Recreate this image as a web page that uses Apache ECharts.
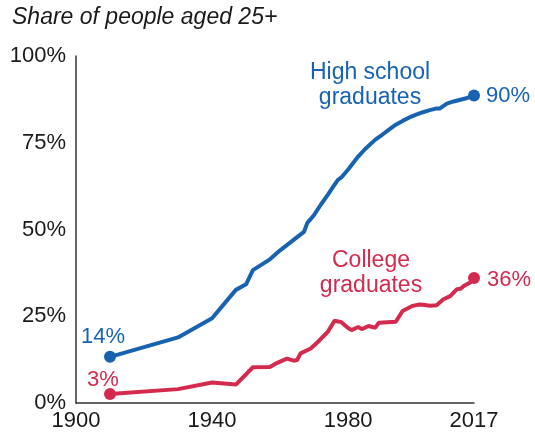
<!DOCTYPE html>
<html>
<head>
<meta charset="utf-8">
<script src="https://cdn.jsdelivr.net/npm/echarts@6/dist/echarts.min.js"></script>
<style>
  html, body { margin: 0; padding: 0; background: #fff; }
  #chart { width: 535px; height: 432px; }
</style>
</head>
<body>
<div id="chart"></div>
<script>
const FONT = '"Liberation Sans", Arial, Helvetica, sans-serif'
const BLUE = '#1763b1'
const RED = '#d42a4e'

// high school graduates
const hsYears = [1910, 1930, 1940, 1947, 1950, 1952, 1957, 1960, 1962, 1965, 1967, 1968,
  1970, 1972, 1974, 1976, 1977, 1978, 1980, 1983, 1985, 1988, 1990, 1992, 1994, 1996,
  1998, 2000, 2002, 2004, 2006, 2007, 2009, 2011, 2013, 2015, 2017]
const hsValues = [13.3, 18.9, 24.4, 32.6, 34.2, 38.3, 41.4, 44.0, 45.5, 47.8, 49.3, 51.9,
  54.2, 57.2, 60.0, 62.9, 64.3, 65.0, 67.3, 71.1, 73.2, 75.9, 77.3, 78.8, 80.2, 81.3,
  82.3, 83.1, 83.8, 84.4, 84.9, 84.9, 86.3, 86.9, 87.4, 87.9, 88.6]

// college graduates
const colYears = [1910, 1930, 1940, 1947, 1952, 1957, 1959, 1962, 1964, 1965, 1966, 1969,
  1971, 1974, 1976, 1978, 1980, 1981, 1983, 1984, 1986, 1988, 1989, 1994, 1996, 1997,
  1999, 2001, 2002, 2004, 2006, 2008, 2010, 2012, 2013, 2014, 2016, 2017]
const colValues = [2.6, 4.0, 5.9, 5.3, 10.3, 10.4, 11.5, 12.8, 12.2, 12.4, 14.3, 15.7,
  17.5, 20.5, 23.7, 23.3, 21.6, 21.0, 21.9, 21.3, 22.2, 21.7, 23.1, 23.4, 26.5, 27.0,
  28.0, 28.4, 28.3, 28.0, 28.2, 29.9, 30.8, 32.8, 32.9, 33.7, 34.8, 36.0]

const xTickLabels = [1900, 1940, 1980, 2017]
const hsEndLabels = ['14%', '90%']
const colEndLabels = ['3%', '36%']

const pairs = (xs, ys) => xs.map((x, i) => [x, ys[i]])
const hsData = pairs(hsYears, hsValues)
const colData = pairs(colYears, colValues)

function endPoints(data, labels, color, startLabel, endLabel) {
  const first = data[0]
  const last = data[data.length - 1]
  return {
    type: 'scatter',
    symbol: 'circle',
    symbolSize: 12,
    itemStyle: { color, opacity: 1 },
    emphasis: { disabled: true },
    z: 5,
    data: [
      { value: first, label: Object.assign({ formatter: labels[0] }, startLabel) },
      { value: last, label: Object.assign({ formatter: labels[1] }, endLabel) }
    ],
    label: { show: true, color, opacity: 1, fontSize: 22, fontFamily: FONT }
  }
}

const chart = echarts.init(document.getElementById('chart'))

chart.setOption({
  animation: false,
  textStyle: { fontFamily: FONT },
  grid: { left: 76, right: 61, top: 56, bottom: 28 },
  xAxis: {
    type: 'value',
    min: 1900,
    max: 2017,
    splitLine: { show: false },
    axisLine: { show: true, lineStyle: { color: '#333', width: 1.5 } },
    axisTick: { show: false },
    axisLabel: {
      customValues: xTickLabels,
      formatter: v => String(v),
      color: '#1a1a1a',
      fontSize: 22,
      margin: 7,
      fontFamily: FONT
    }
  },
  yAxis: {
    type: 'value',
    min: 0,
    max: 100,
    interval: 25,
    splitLine: { show: false },
    axisLine: { show: true, lineStyle: { color: '#333', width: 1.5 } },
    axisTick: { show: false },
    axisLabel: {
      formatter: '{value}%',
      color: '#1a1a1a',
      fontSize: 22,
      margin: 10,
      fontFamily: FONT
    }
  },
  graphic: [
    {
      type: 'text', left: 12, top: 6,
      style: { text: 'Share of people aged 25+', fill: '#1a1a1a',
        font: 'italic 23px ' + FONT }
    },
    {
      type: 'text', x: 370, y: 60,
      style: { text: 'High school\ngraduates', align: 'center', lineHeight: 25,
        fill: BLUE, font: '23px ' + FONT }
    },
    {
      type: 'text', x: 371, y: 248,
      style: { text: 'College\ngraduates', align: 'center', lineHeight: 25,
        fill: RED, font: '23px ' + FONT }
    }
  ],
  series: [
    {
      type: 'line',
      data: hsData,
      showSymbol: false,
      lineStyle: { color: BLUE, width: 4 },
      emphasis: { disabled: true },
      z: 3
    },
    {
      type: 'line',
      data: colData,
      showSymbol: false,
      lineStyle: { color: RED, width: 4 },
      emphasis: { disabled: true },
      z: 3
    },
    endPoints(hsData, hsEndLabels, BLUE,
      { position: 'top', distance: 3, offset: [-7, 0] },
      { position: 'right', distance: 6 }),
    endPoints(colData, colEndLabels, RED,
      { position: 'top', distance: 0, offset: [-7, 3] },
      { position: 'right', distance: 7, offset: [0, 2] })
  ]
})
</script>
</body>
</html>
